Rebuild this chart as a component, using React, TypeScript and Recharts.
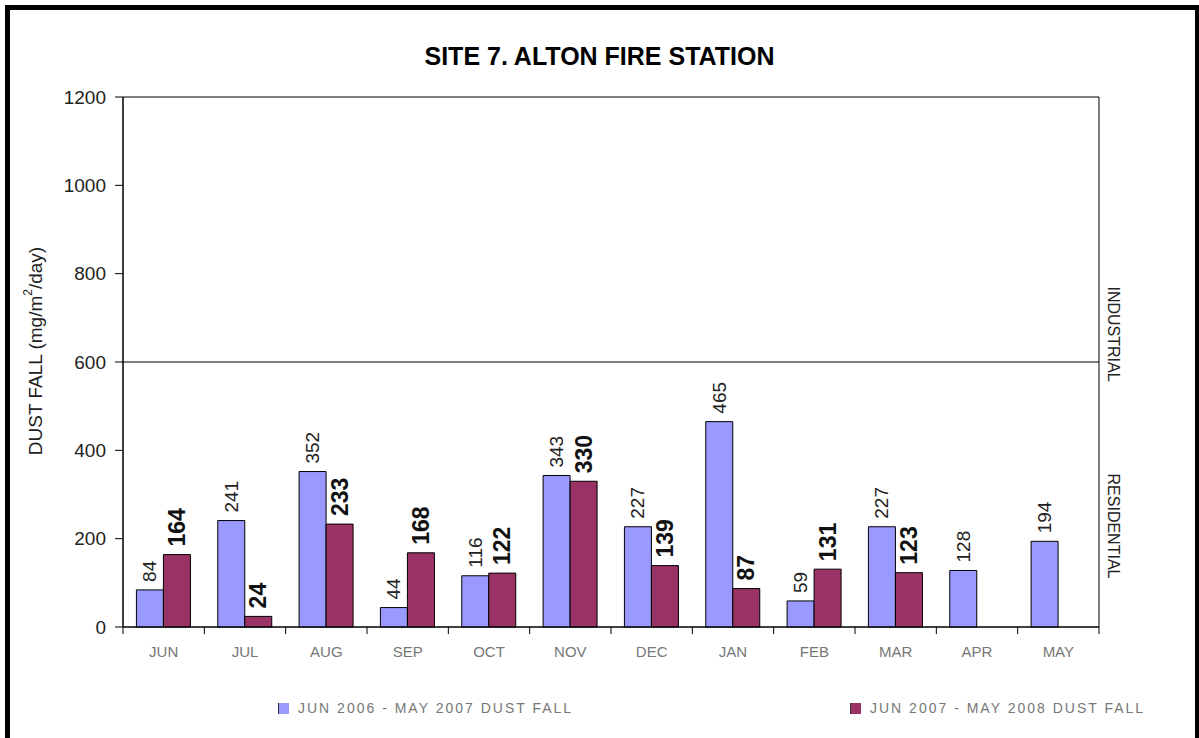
import React from 'react';
import { BarChart, Bar, XAxis, YAxis, ReferenceLine, ReferenceArea, LabelList } from 'recharts';

const months = ['JUN', 'JUL', 'AUG', 'SEP', 'OCT', 'NOV', 'DEC', 'JAN', 'FEB', 'MAR', 'APR', 'MAY'];
const dust0607 = [84, 241, 352, 44, 116, 343, 227, 465, 59, 227, 128, 194];
const dust0708: (number | null)[] = [164, 24, 233, 168, 122, 330, 139, 87, 131, 123, null, null];
const seriesNames = ['JUN 2006 - MAY 2007 DUST FALL', 'JUN 2007 - MAY 2008 DUST FALL'];
const seriesColors = ['#9999FF', '#993366'];
const yTicks = [0, 200, 400, 600, 800, 1000, 1200];
const title = 'SITE 7. ALTON FIRE STATION';
const zoneLabels = ['INDUSTRIAL', 'RESIDENTIAL'];

const data = months.map((m, i) => ({ month: m, a: dust0607[i], b: dust0708[i] }));

const W = 1199;
const H = 738;
const M = { top: 97, right: 100, bottom: 71, left: 0 };
const Y_AXIS_W = 123;
const X_AXIS_H = 40;
const PLOT_W = W - M.left - M.right - Y_AXIS_W;
const FONT = 'Arial, "Liberation Sans", sans-serif';

const XTick = (props: any) => {
  const { x, y, payload, index } = props;
  const bw = PLOT_W / months.length;
  return (
    <g>
      <line x1={x - bw / 2} y1={y} x2={x - bw / 2} y2={y + 7} stroke="#000" strokeWidth={1} />
      {index === months.length - 1 && (
        <line x1={x + bw / 2} y1={y} x2={x + bw / 2} y2={y + 7} stroke="#000" strokeWidth={1} />
      )}
      <text x={x} y={y + 30} textAnchor="middle" fontSize={15} fill="#777" fontFamily={FONT}>
        {payload.value}
      </text>
    </g>
  );
};

const makeValueLabel = (fontSize: number, bold: boolean, color: string) => (props: any) => {
  const { x, y, width, value } = props;
  if (value === null || value === undefined) return null;
  const cx = Number(x) + Number(width) / 2;
  const ty = Number(y) - 8;
  return (
    <text
      x={cx}
      y={ty}
      transform={`rotate(-90, ${cx}, ${ty})`}
      textAnchor="start"
      dominantBaseline="central"
      fontSize={fontSize}
      fontWeight={bold ? 'bold' : 'normal'}
      fill={color}
      fontFamily={FONT}
    >
      {value}
    </text>
  );
};

const ZoneLabel = (props: any) => {
  const vb = props.viewBox || {};
  const x = vb.x + vb.width + 14;
  const y1 = vb.y - 28;
  const y2 = vb.y + 164;
  return (
    <g fontFamily={FONT} fontSize={16} fill="#222">
      <text x={x} y={y1} transform={`rotate(90, ${x}, ${y1})`} textAnchor="middle" dominantBaseline="central">
        {zoneLabels[0]}
      </text>
      <text x={x} y={y2} transform={`rotate(90, ${x}, ${y2})`} textAnchor="middle" dominantBaseline="central">
        {zoneLabels[1]}
      </text>
    </g>
  );
};

const YLabel = (props: any) => {
  const vb = props.viewBox || {};
  const x = 35;
  const y = vb.y + vb.height / 2 - 11;
  return (
    <text
      x={x}
      y={y}
      transform={`rotate(-90, ${x}, ${y})`}
      textAnchor="middle"
      dominantBaseline="central"
      fontSize={19}
      fill="#222"
      fontFamily={FONT}
    >
      <tspan>DUST FALL  (mg/m</tspan>
      <tspan fontSize={12} dy={-7}>2</tspan>
      <tspan dy={7}>/day)</tspan>
    </text>
  );
};

export default function App() {
  return (
    <div style={{ position: 'absolute', left: 0, top: 0, width: W, height: H, background: '#fff', fontFamily: FONT }}>
      <div style={{ position: 'absolute', left: 5, top: 5, width: 5, height: H - 5, background: '#000' }} />
      <div style={{ position: 'absolute', left: 5, top: 5, width: W - 5, height: 5, background: '#000' }} />
      <div style={{ position: 'absolute', left: W - 4, top: 5, width: 4, height: H - 5, background: '#000' }} />
      <div
        style={{
          position: 'absolute',
          left: 0,
          top: 40,
          width: W,
          textAlign: 'center',
          fontSize: 25,
          fontWeight: 'bold',
          color: '#000',
          lineHeight: '32px',
        }}
      >
        {title}
      </div>
      <div style={{ position: 'absolute', left: 0, top: 0 }}>
        <BarChart width={W} height={H} data={data} margin={M} barCategoryGap="16.5%" barGap={0}>
          <ReferenceArea y1={0} y2={1200} fill="none" stroke="#000" strokeWidth={1} ifOverflow="visible" />
          <XAxis
            dataKey="month"
            height={X_AXIS_H}
            axisLine={{ stroke: '#000' }}
            tickLine={false}
            tickSize={0}
            tickMargin={0}
            interval={0}
            tick={<XTick />}
          />
          <YAxis
            width={Y_AXIS_W}
            domain={[0, 1200]}
            ticks={yTicks}
            interval={0}
            axisLine={{ stroke: '#000' }}
            tickLine={{ stroke: '#000' }}
            tickSize={8}
            tickMargin={9}
            tick={{ fontSize: 19, fill: '#222', fontFamily: FONT }}
            label={<YLabel />}
          />
          <ReferenceLine y={600} stroke="#000" strokeWidth={1} label={<ZoneLabel />} />
          <Bar dataKey="a" fill={seriesColors[0]} stroke="#000" strokeWidth={1} isAnimationActive={false}>
            <LabelList dataKey="a" content={makeValueLabel(19, false, '#222')} />
          </Bar>
          <Bar dataKey="b" fill={seriesColors[1]} stroke="#000" strokeWidth={1} isAnimationActive={false}>
            <LabelList dataKey="b" content={makeValueLabel(23, true, '#111')} />
          </Bar>
        </BarChart>
      </div>
      {seriesNames.map((name, i) => (
        <div
          key={name}
          style={{
            position: 'absolute',
            left: i === 0 ? 278 : 850,
            top: 699,
            height: 18,
            display: 'flex',
            alignItems: 'center',
            fontSize: 14,
            letterSpacing: 2,
            color: '#777',
            whiteSpace: 'nowrap',
          }}
        >
          <span
            style={{
              display: 'inline-block',
              width: 10,
              height: 11,
              background: seriesColors[i],
              borderLeft: '1px solid #333',
              marginRight: 9,
            }}
          />
          {name}
        </div>
      ))}
    </div>
  );
}
